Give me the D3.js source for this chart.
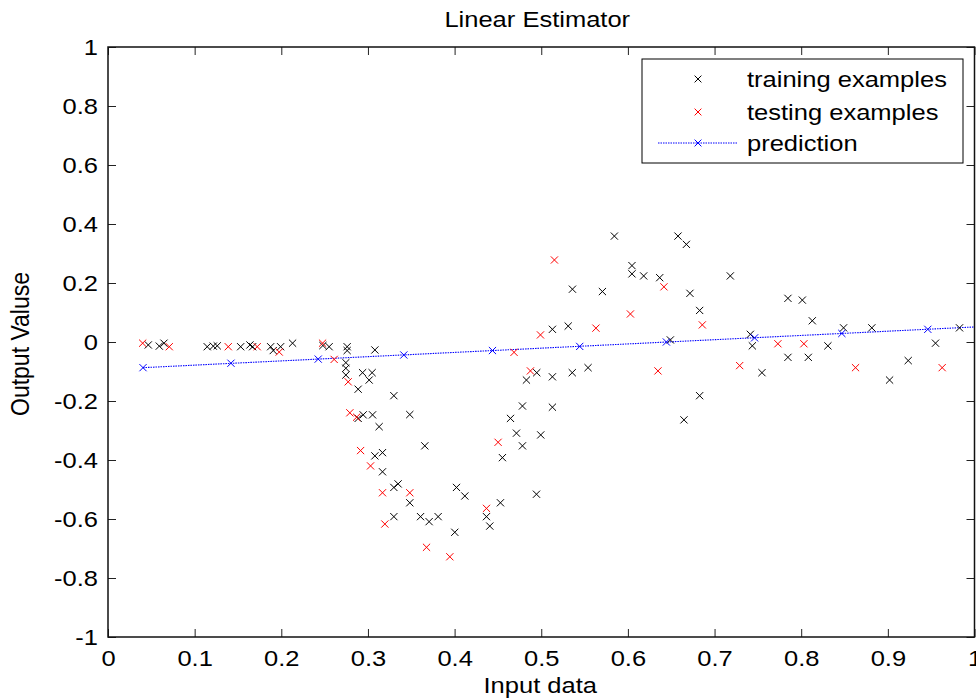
<!DOCTYPE html>
<html>
<head>
<meta charset="utf-8">
<script src="https://cdn.jsdelivr.net/npm/d3@7"></script>
<style>
  body { margin: 0; background: #fff; }
  svg { display: block; }
  text { font-family: "Liberation Sans", Arial, sans-serif; fill: #000; }
</style>
</head>
<body>
<svg id="chart" width="976" height="698"></svg>
<script>

/*********************/
/*** INIT VARIABLE ***/
/*********************/

// training examples (black)
let trainX = [0.0465, 0.0592, 0.0646, 0.1145, 0.1215, 0.1261, 0.1531, 0.1638, 0.1669, 0.1877,
              0.1907, 0.1992, 0.2130, 0.2480, 0.2552, 0.2760, 0.2760, 0.2745, 0.2745, 0.2745,
              0.2887, 0.2938, 0.3048, 0.3014, 0.3080, 0.3299, 0.2887, 0.2945, 0.3053, 0.3129,
              0.3483, 0.3080, 0.3168, 0.3168, 0.3299, 0.3348, 0.3483, 0.3299, 0.3656, 0.3607,
              0.3706, 0.3810, 0.4002, 0.4022, 0.4118, 0.4368, 0.4406, 0.4529, 0.4552, 0.4714,
              0.4783, 0.4645, 0.4783, 0.4994, 0.4945, 0.5129, 0.4829, 0.4948, 0.5129, 0.5358,
              0.5540, 0.5129, 0.5311, 0.5360, 0.5706, 0.5844, 0.6047, 0.6047, 0.6182, 0.6367,
              0.6578, 0.6675, 0.6716, 0.6828, 0.6490, 0.6828, 0.6647, 0.7182, 0.7413, 0.7436,
              0.7547, 0.7847, 0.8013, 0.8128, 0.7847, 0.8082, 0.8308, 0.8489, 0.8815, 0.9020,
              0.9235, 0.9550, 0.9827];
let trainY = [-0.010, -0.014, -0.004, -0.016, -0.014, -0.013, -0.016, -0.010, -0.016, -0.016,
              -0.029, -0.016, -0.004, -0.012, -0.016, -0.016, -0.029, -0.070, -0.089, -0.112,
              -0.160, -0.104, -0.104, -0.129, -0.027, -0.182, -0.259, -0.247, -0.247, -0.287,
              -0.246, -0.386, -0.375, -0.440, -0.493, -0.481, -0.545, -0.592, -0.352, -0.592,
              -0.609, -0.592, -0.645, -0.493, -0.522, -0.592, -0.624, -0.545, -0.392, -0.309,
              -0.352, -0.259, -0.217, -0.315, -0.516, -0.221, -0.129, -0.104, -0.118, -0.104,
              -0.087, 0.043, 0.054, 0.179, 0.171, 0.359, 0.259, 0.231, 0.224, 0.218,
              0.359, 0.331, 0.165, 0.107, 0.007, -0.182, -0.264, 0.224, 0.026, -0.013,
              -0.104, 0.148, 0.142, 0.072, -0.052, -0.052, -0.013, 0.048, 0.048, -0.129,
              -0.063, -0.004, 0.048];

// testing examples (red)
let testX = [0.0400, 0.0707, 0.1388, 0.1722, 0.1976, 0.2476, 0.2610, 0.2772, 0.2791, 0.2869,
             0.2915, 0.3030, 0.3168, 0.3195, 0.3483, 0.3676, 0.3945, 0.4368, 0.4502, 0.4686,
             0.4875, 0.4991, 0.5152, 0.5631, 0.6029, 0.6347, 0.6416, 0.6859, 0.7290, 0.7731,
             0.8031, 0.8627, 0.9627];
let testY = [-0.004, -0.016, -0.016, -0.016, -0.034, -0.004, -0.059, -0.135, -0.240, -0.255,
             -0.368, -0.420, -0.511, -0.617, -0.511, -0.696, -0.728, -0.564, -0.340, -0.035,
             -0.098, 0.024, 0.278, 0.047, 0.095, -0.098, 0.187, 0.058, -0.080, -0.006,
             -0.006, -0.087, -0.087];

// prediction markers (blue) and the dotted fit line
let predX = [0.0404, 0.1419, 0.2426, 0.3414, 0.4437, 0.5444, 0.6444, 0.7462, 0.8469, 0.9461];
let predY = [-0.087, -0.072, -0.058, -0.044, -0.029, -0.015, 0.000, 0.014, 0.029, 0.043];
let predLineX = [0.0404, 1.0];
let predLineY = [-0.087, 0.051];

let xTicks = [0, 0.1, 0.2, 0.3, 0.4, 0.5, 0.6, 0.7, 0.8, 0.9, 1],
    xTickLabels = ["0", "0.1", "0.2", "0.3", "0.4", "0.5", "0.6", "0.7", "0.8", "0.9", "1"];
let yTicks = [-1, -0.8, -0.6, -0.4, -0.2, 0, 0.2, 0.4, 0.6, 0.8, 1],
    yTickLabels = ["-1", "-0.8", "-0.6", "-0.4", "-0.2", "0", "0.2", "0.4", "0.6", "0.8", "1"];

let legendLabels = ["training examples", "testing examples", "prediction"];

let svg = d3.select("#chart");

let margin = {top: 47, right: 1.5, bottom: 61, left: 108},
    width  = 976 - margin.left - margin.right,
    height = 698 - margin.top - margin.bottom;

// the picture's text is a little stretched sideways
let fs = 22, sx = 1.16;

let x = d3.scaleLinear().domain([0, 1]).range([margin.left, margin.left + width]),
    y = d3.scaleLinear().domain([-1, 1]).range([margin.top + height, margin.top]);

/********************************/
/*** DECLARE HELPER FUNCTIONS ***/
/********************************/

function cross(r) {
    return "M" + (-r) + "," + (-r) + "L" + r + "," + r + "M" + (-r) + "," + r + "L" + r + "," + (-r);
}

function draw_axes() {
    let bottom = svg.append("g")
        .attr("transform", "translate(0," + (margin.top + height) + ")")
        .call(d3.axisBottom(x).tickValues(xTicks).tickSize(-8).tickSizeOuter(0)
            .tickFormat((d, i) => xTickLabels[i]));
    bottom.selectAll("text")
        .attr("y", null).attr("dy", null)
        .attr("transform", "translate(0,29) scale(" + sx + ",1)")
        .style("font-size", fs + "px");

    svg.append("g")
        .attr("transform", "translate(0," + margin.top + ")")
        .call(d3.axisTop(x).tickValues(xTicks).tickSize(-8).tickSizeOuter(0).tickFormat(""));

    let left = svg.append("g")
        .attr("transform", "translate(" + margin.left + ",0)")
        .call(d3.axisLeft(y).tickValues(yTicks).tickSize(-8).tickSizeOuter(0)
            .tickFormat((d, i) => yTickLabels[i]));
    left.selectAll("text")
        .attr("x", null).attr("dy", null)
        .attr("dominant-baseline", "central")
        .attr("transform", "translate(-10,0) scale(" + sx + ",1)")
        .style("font-size", fs + "px");

    svg.append("g")
        .attr("transform", "translate(" + (margin.left + width) + ",0)")
        .call(d3.axisRight(y).tickValues(yTicks).tickSize(-8).tickSizeOuter(0).tickFormat(""));

    svg.selectAll(".domain").remove();
    svg.selectAll(".tick line").attr("stroke", "#222").attr("stroke-width", 1);

    svg.append("rect")
        .attr("x", margin.left).attr("y", margin.top)
        .attr("width", width).attr("height", height)
        .attr("fill", "none").attr("stroke", "#111").attr("stroke-width", 1.5);
}

function draw_labels() {
    svg.append("text")
        .attr("text-anchor", "middle")
        .attr("transform", "translate(" + (margin.left + width / 2 - 4) + ",27) scale(" + sx + ",1)")
        .style("font-size", fs + "px")
        .text("Linear Estimator");

    svg.append("text")
        .attr("text-anchor", "middle")
        .attr("transform", "translate(" + (margin.left + width / 2 - 1) + ",693) scale(" + sx + ",1)")
        .style("font-size", fs + "px")
        .text("Input data");

    svg.append("text")
        .attr("text-anchor", "middle")
        .attr("transform", "translate(29," + (margin.top + height / 2 + 2) + ") rotate(-90) scale(1," + sx + ")")
        .style("font-size", (fs + 1) + "px")
        .text("Output Valuse");
}

function draw_points() {
    let plot = svg.append("g");

    plot.append("path")
        .datum(predLineX.map((d, i) => [d, predLineY[i]]))
        .attr("fill", "none")
        .attr("stroke", "#0000ff")
        .attr("stroke-width", 1.1)
        .attr("stroke-dasharray", "1.5,1")
        .attr("d", d3.line().x((d) => x(d[0])).y((d) => y(d[1])));

    plot.selectAll("path.train")
        .data(trainX.map((d, i) => [d, trainY[i]])).enter()
        .append("path")
        .classed("train", true)
        .attr("transform", (d) => "translate(" + x(d[0]) + "," + y(d[1]) + ")")
        .attr("d", cross(3.6))
        .attr("stroke", "#000").attr("stroke-width", 1).attr("fill", "none");

    plot.selectAll("path.test")
        .data(testX.map((d, i) => [d, testY[i]])).enter()
        .append("path")
        .classed("test", true)
        .attr("transform", (d) => "translate(" + x(d[0]) + "," + y(d[1]) + ")")
        .attr("d", cross(3.6))
        .attr("stroke", "#ff0000").attr("stroke-width", 1).attr("fill", "none");

    plot.selectAll("path.pred")
        .data(predX.map((d, i) => [d, predY[i]])).enter()
        .append("path")
        .classed("pred", true)
        .attr("transform", (d) => "translate(" + x(d[0]) + "," + y(d[1]) + ")")
        .attr("d", cross(3.6))
        .attr("stroke", "#0000ff").attr("stroke-width", 1).attr("fill", "none");
}

function draw_legend() {
    let lg = svg.append("g");
    let colors = ["#000", "#ff0000", "#0000ff"],
        rows = [79, 112, 143];

    lg.append("rect")
        .attr("x", 642).attr("y", 59)
        .attr("width", 321).attr("height", 104)
        .attr("fill", "#fff").attr("stroke", "#000").attr("stroke-width", 1);

    lg.append("line")
        .attr("x1", 658).attr("x2", 738)
        .attr("y1", rows[2]).attr("y2", rows[2])
        .attr("stroke", "#0000ff").attr("stroke-width", 1.1)
        .attr("stroke-dasharray", "1.5,1");

    lg.selectAll("path.lg-mark")
        .data(legendLabels).enter()
        .append("path")
        .classed("lg-mark", true)
        .attr("transform", (d, i) => "translate(698," + rows[i] + ")")
        .attr("d", cross(3.4))
        .attr("stroke", (d, i) => colors[i]).attr("stroke-width", 1).attr("fill", "none");

    lg.selectAll("text.lg-label")
        .data(legendLabels).enter()
        .append("text")
        .classed("lg-label", true)
        .attr("transform", (d, i) => "translate(747," + (rows[i] + 8) + ") scale(" + sx + ",1)")
        .style("font-size", fs + "px")
        .text((d) => d);
}

/*******************/
/*** DRAW CHART ***/
/*******************/

draw_axes();
draw_points();
draw_labels();
draw_legend();

</script>
</body>
</html>
